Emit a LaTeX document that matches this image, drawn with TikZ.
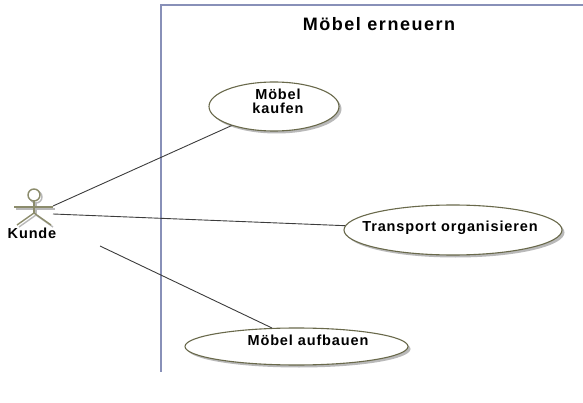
\documentclass[tikz,border=0pt]{standalone}
\usepackage{fontspec}
\setmainfont{Liberation Sans}
\newfontfamily\labfont{Liberation Sans Bold}[LetterSpace=6]
\newfontfamily\titlefont{Liberation Sans Bold}[LetterSpace=8.5]
\usetikzlibrary{shapes.geometric,shadows}
\definecolor{framecol}{RGB}{136,144,184}
\definecolor{ucborder}{RGB}{105,105,75}
\definecolor{actorcol}{RGB}{140,140,108}
\definecolor{shadowcol}{RGB}{185,185,185}
\definecolor{edgecol}{RGB}{60,60,60}
\tikzset{
  ucase/.style={ellipse, draw=ucborder, line width=1.1pt, fill=white, inner sep=0pt,
    drop shadow={shadow xshift=2.5pt, shadow yshift=-2.5pt, fill=shadowcol, opacity=1}},
  uclabel/.style={font=\labfont\fontsize{14.5}{14}\selectfont, inner sep=0pt, anchor=base, align=center},
  assoc/.style={draw=edgecol, line width=0.9pt},
  actorline/.style={draw=actorcol, line width=1.4pt},
  actorshadow/.style={draw=shadowcol, line width=1.4pt}
}
\begin{document}
\begin{tikzpicture}[x=1pt,y=-1pt]
\useasboundingbox (0,0) rectangle (583,403);
% system boundary
\draw[framecol, line width=1.2pt] (583,5) -- (161,5) -- (161,372);
\node[font=\titlefont\fontsize{18}{20}\selectfont, inner sep=0pt, anchor=base] (title) at (379,31) {Möbel erneuern};
% actor
\begin{scope}[shift={(2,2)}]
  \draw[actorshadow] (34,195) circle (6);
  \draw[actorshadow] (34,201) -- (34,213);
  \draw[actorshadow] (14,207) -- (53,207);
  \draw[actorshadow] (17,225) -- (34,213) -- (51,225);
\end{scope}
\draw[actorline, fill=white] (34,195) circle (6);
\draw[actorline] (34,201) -- (34,213);
\draw[actorline] (14,207) -- (53,207);
\draw[actorline] (17,225) -- (34,213) -- (51,225);
\node[uclabel] (kunde) at (32,239) {Kunde};
\coordinate (a1) at (53,206);
\coordinate (a2) at (53,214);
\coordinate (a3) at (100,246);
% use cases
\node[ucase, minimum width=130pt, minimum height=49pt] (kaufen) at (274,106.5) {};
\node[ucase, minimum width=218pt, minimum height=50pt] (transport) at (453,230) {};
\node[ucase, minimum width=223pt, minimum height=37pt] (aufbauen) at (296.5,346.5) {};
\node[uclabel] (kaufenT) at (278,114) {Möbel\\kaufen};
\node[uclabel] (transportT) at (450,232) {Transport organisieren};
\node[uclabel] (aufbauenT) at (308,345) {Möbel aufbauen};
% associations
\draw[assoc] (a1) -- (kaufen);
\draw[assoc] (a2) -- (transport);
\draw[assoc] (a3) -- (aufbauen.143);
\end{tikzpicture}
\end{document}
